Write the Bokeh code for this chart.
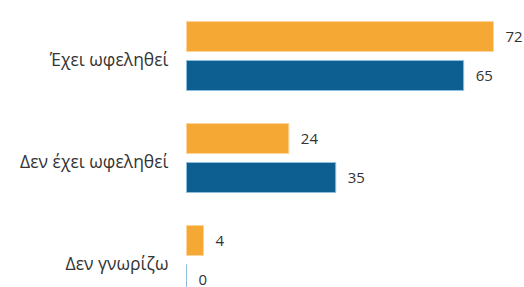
from bokeh.plotting import figure
from bokeh.models import ColumnDataSource, Range1d
from bokeh.transform import dodge
from bokeh.core.properties import value
from bokeh.embed import file_html
from bokeh.resources import INLINE

categories = ["Έχει ωφεληθεί", "Δεν έχει ωφεληθεί", "Δεν γνωρίζω"]
series_orange = [72, 24, 4]
series_blue = [65, 35, 0]

ORANGE = "#f5a833"
BLUE = "#0c5f90"
TEXT = "#333333"
FONT = "Open Sans"

ypos = [len(categories) - 1 - i for i in range(len(categories))]
src = ColumnDataSource(dict(
    cat=categories, y=ypos,
    a=series_orange, b=series_blue,
    a_lbl=[str(v) for v in series_orange],
    b_lbl=[str(v) for v in series_blue],
))

px_per_unit = 4.264
W, H = 524, 287
x_start = -186 / px_per_unit
x_end = x_start + W / px_per_unit
y_end = 2 + 55.5 / 102
y_start = y_end - H / 102

p = figure(width=W, height=H, output_backend="svg", toolbar_location=None,
           x_range=Range1d(x_start, x_end), y_range=Range1d(y_start, y_end),
           min_border_left=0, min_border_right=0, min_border_top=0, min_border_bottom=0)
p.axis.visible = False
p.grid.visible = False
p.outline_line_color = None
p.background_fill_color = "white"
p.border_fill_color = "white"

bh = 30 / 102
off = 19.5 / 102

p.hbar(y=dodge("y", off), right="a", left=0, height=bh, source=src,
       fill_color=ORANGE, line_color="#fbd49a", line_width=1)
p.hbar(y=dodge("y", -off), right="b", left=0, height=bh, source=src,
       fill_color=BLUE, line_color="#8fbedc", line_width=1)

p.text(x="a", y=dodge("y", off), text="a_lbl", source=src, x_offset=12,
       text_align="left", text_baseline="middle", text_font=value(FONT),
       text_font_size="15px", text_color=TEXT)
p.text(x="b", y=dodge("y", -off), text="b_lbl", source=src, x_offset=12,
       text_align="left", text_baseline="middle", text_font=value(FONT),
       text_font_size="15px", text_color=TEXT)

p.text(x=0, y="y", text="cat", source=src, x_offset=-18, y_offset=3,
       text_align="right", text_baseline="middle", text_font=value(FONT),
       text_font_size="17.5px", text_color=TEXT)

open("out.html", "w").write(file_html(p, INLINE))
